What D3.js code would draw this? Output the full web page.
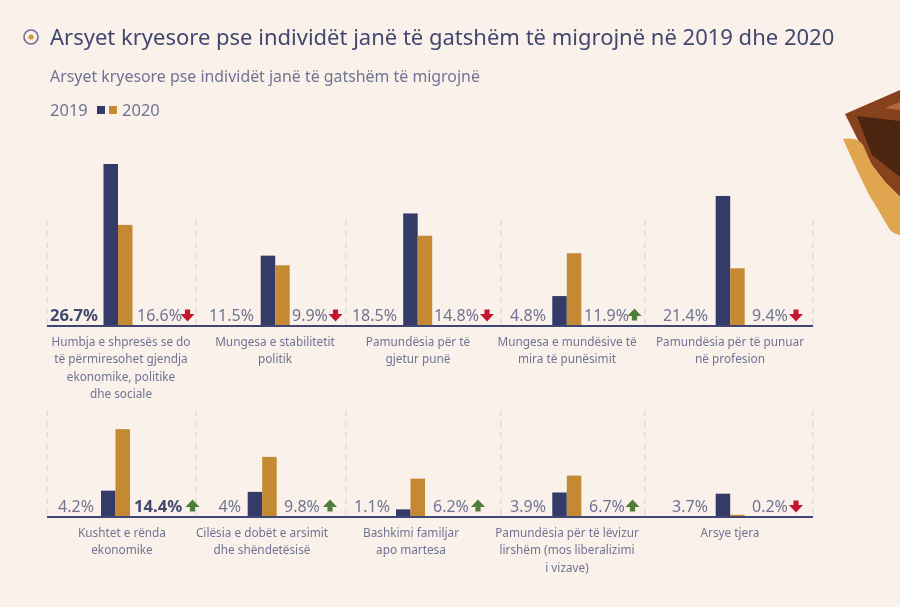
<!DOCTYPE html>
<html><head><meta charset="utf-8">
<script src="https://cdn.jsdelivr.net/npm/d3@7/dist/d3.min.js"></script>
<style>
html,body{margin:0;padding:0;background:#f9f1ea;}
svg{display:block;filter:blur(0.55px);font-family:"Noto Sans",sans-serif;}
</style></head><body>
<svg id="c" width="900" height="607"></svg>
<script>
const categories=[
 "Humbja e shpresës se do|të përmiresohet gjendja|ekonomike, politike|dhe sociale",
 "Mungesa e stabilitetit|politik",
 "Pamundësia për të|gjetur punë",
 "Mungesa e mundësive të|mira të punësimit",
 "Pamundësia për të punuar|në profesion",
 "Kushtet e rënda|ekonomike",
 "Cilësia e dobët e arsimit|dhe shëndetësisë",
 "Bashkimi familjar|apo martesa",
 "Pamundësia për të lëvizur|lirshëm (mos liberalizimi|i vizave)",
 "Arsye tjera"
];
const values2019=[26.7,11.5,18.5,4.8,21.4,4.2,4,1.1,3.9,3.7];
const values2020=[16.6,9.9,14.8,11.9,9.4,14.4,9.8,6.2,6.7,0.2];
const labels2019=["26.7%","11.5%","18.5%","4.8%","21.4%","4.2%","4%","1.1%","3.9%","3.7%"];
const labels2020=["16.6%","9.9%","14.8%","11.9%","9.4%","14.4%","9.8%","6.2%","6.7%","0.2%"];
const seriesNames=["2019","2020"];

// layout
const NAVY="#343b68",GOLD="#c48a33",TXT="#6f7493",RED="#c4172f",GREEN="#4f7d3a";
const barLeft=[103.5,260.7,403.2,552.3,715.7,101,247.7,396,552.3,715.7];
const labelEnd=[98,254,397,546,708,94,241,390,546,708];
const labelStart=[137,292,434,584,752,134,284,433,589,752];
const arrowX=[187.5,335.5,487,634.5,796,192.5,330,478,632.5,796];
const dashRows=[[220,325],[410,517]];
const dashX=[47,196,346,501,645,813];
const baseY=[326,517];

const svg=d3.select("#c");
const y=d3.scaleLinear().domain([0,26.7]).range([0,161]);
const xs=d3.scaleBand().domain(seriesNames).range([0,29]);
const idx=d3.range(categories.length);
const row=i=>i<5?0:1;

// illustration
const ill=svg.append("g");
ill.append("path").attr("fill","#86411d").attr("d","M845,114L900,90L900,197L885,182L868,160Z");
ill.append("path").attr("fill","#4c2510").attr("d","M857,116L900,121L900,177L872,155Z");
ill.append("path").attr("fill","#b5693a").attr("d","M885,108L900,102L900,110Z");
ill.append("path").attr("fill","#e0a64f").attr("d","M843,139Q849,138 855,139Q860,141 863,145L872,165L885,182L900,197L900,235Q894,234 890,230L880,213L868,193L857,170Z");

// header
svg.append("circle").attr("cx",31).attr("cy",37).attr("r",7).attr("fill","none").attr("stroke","#6a6f8e").attr("stroke-width",1.6);
svg.append("circle").attr("cx",31).attr("cy",37).attr("r",2.6).attr("fill","#d09a45");
svg.append("text").attr("x",50).attr("y",45).attr("font-size",22).attr("fill","#41486f").text("Arsyet kryesore pse individët janë të gatshëm të migrojnë në 2019 dhe 2020");
svg.append("text").attr("x",50).attr("y",82).attr("font-size",15.9).attr("fill",TXT).text("Arsyet kryesore pse individët janë të gatshëm të migrojnë");
svg.append("text").attr("x",50).attr("y",115.5).attr("font-size",16.5).attr("fill",TXT).text(seriesNames[0]);
svg.append("rect").attr("x",97).attr("y",106).attr("width",8).attr("height",8).attr("fill",NAVY);
svg.append("rect").attr("x",109).attr("y",106).attr("width",8).attr("height",8).attr("fill",GOLD);
svg.append("text").attr("x",122).attr("y",115.5).attr("font-size",16.5).attr("fill",TXT).text(seriesNames[1]);

// dashed guides and baselines
dashRows.forEach(r=>{
  svg.append("g").selectAll("line").data(dashX).join("line")
    .attr("x1",d=>d).attr("x2",d=>d).attr("y1",r[0]).attr("y2",r[1])
    .attr("stroke","#dcd9d5").attr("stroke-width",1.2).attr("stroke-dasharray","6 5");
});
baseY.forEach(b=>svg.append("line").attr("x1",47).attr("x2",813).attr("y1",b).attr("y2",b).attr("stroke","#3f4673").attr("stroke-width",2));

// bars
[[values2019,NAVY,seriesNames[0]],[values2020,GOLD,seriesNames[1]]].forEach(([vals,col,name])=>{
  svg.append("g").selectAll("rect").data(idx).join("rect")
    .attr("x",i=>barLeft[i]+xs(name))
    .attr("width",xs.bandwidth())
    .attr("y",i=>baseY[row(i)]-1-y(vals[i]))
    .attr("height",i=>y(vals[i]))
    .attr("fill",col);
});

// value labels
const bold2019=new Set([0]),bold2020=new Set([5]);
svg.append("g").selectAll("text").data(idx).join("text")
  .attr("x",i=>labelEnd[i]).attr("y",i=>baseY[row(i)]-5.5).attr("text-anchor","end")
  .attr("font-size",i=>bold2019.has(i)?16.6:16).attr("font-weight",i=>bold2019.has(i)?700:400)
  .attr("fill",i=>bold2019.has(i)?"#41486f":TXT).text(i=>labels2019[i]);
svg.append("g").selectAll("text").data(idx).join("text")
  .attr("x",i=>labelStart[i]).attr("y",i=>baseY[row(i)]-5.5)
  .attr("font-size",i=>bold2020.has(i)?16.6:16).attr("font-weight",i=>bold2020.has(i)?700:400)
  .attr("fill",i=>bold2020.has(i)?"#41486f":TXT).text(i=>labels2020[i]);

// arrows: direction follows the data
svg.append("g").selectAll("path").data(idx).join("path")
  .attr("d","M0,-6.5L7,1L2.6,1L2.6,5.5L-2.6,5.5L-2.6,1L-7,1Z")
  .attr("transform",i=>{
    const up=values2020[i]>values2019[i];
    return `translate(${arrowX[i]},${baseY[row(i)]-11}) rotate(${up?0:180})`;
  })
  .attr("fill",i=>values2020[i]>values2019[i]?GREEN:RED);

// category labels
const catG=svg.append("g").selectAll("text").data(idx).join("text")
  .attr("text-anchor","middle").attr("font-size",11.8).attr("fill",TXT);
const catCenter=[121,275,418,567,730,122,262,411,567,730];
catG.selectAll("tspan").data(i=>categories[i].split("|").map((t,n)=>({t,n,i}))).join("tspan")
  .attr("x",d=>catCenter[d.i])
  .attr("y",d=>baseY[row(d.i)]+19.5+d.n*17.6)
  .text(d=>d.t);
</script>
</body></html>
